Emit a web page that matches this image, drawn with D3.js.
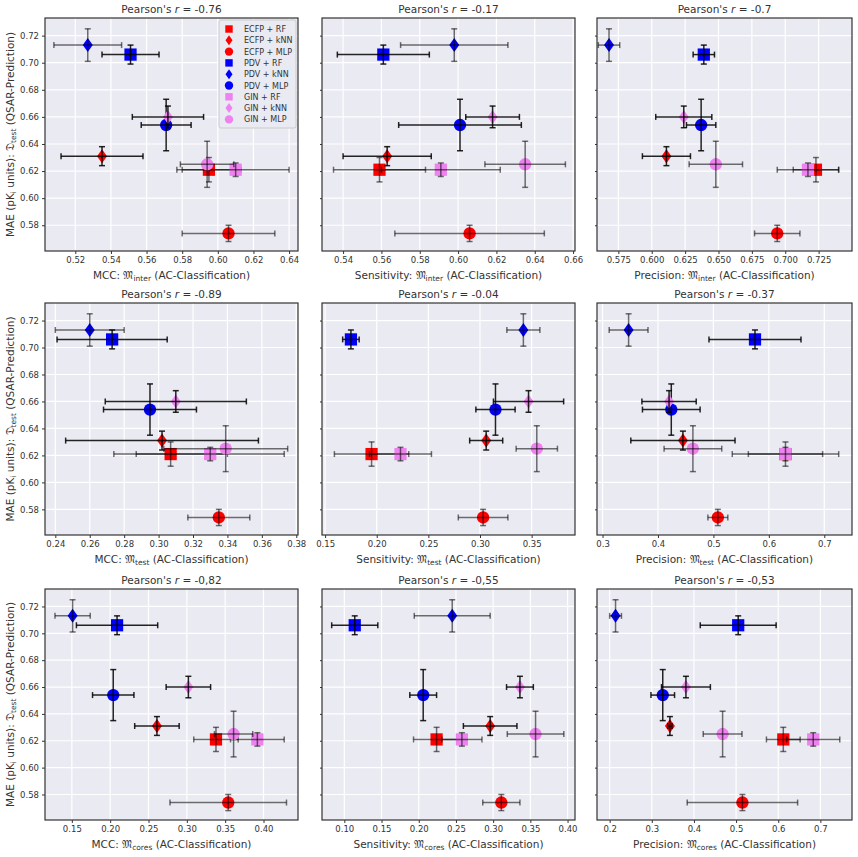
<!DOCTYPE html>
<html><head><meta charset="utf-8">
<script src="https://cdn.jsdelivr.net/npm/d3@7"></script>
<style>body{margin:0;background:#fff}text{font-family:"DejaVu Sans",sans-serif;fill:#333}</style>
</head><body><svg id="chart" width="858" height="857"></svg>
<script>
// models in legend order
const models = ["ECFP + RF","ECFP + kNN","ECFP + MLP","PDV + RF","PDV + kNN","PDV + MLP","GIN + RF","GIN + kNN","GIN + MLP"];
const colors = ["red","red","red","blue","blue","blue","violet","violet","violet"];
const shapes = ["square","diamond","circle","square","diamond","circle","square","diamond","circle"];
const mae    = [0.621,0.631,0.574,0.706,0.713,0.654,0.621,0.660,0.625];
const maeErr = [0.009,0.007,0.006,0.007,0.012,0.019,0.005,0.008,0.017];
const yTicks = [0.58,0.60,0.62,0.64,0.66,0.68,0.70,0.72];

// x values per panel (row-major)
const xVals = [
  [0.595,0.535,0.606,0.551,0.527,0.571,0.610,0.572,0.594],
  [0.559,0.563,0.606,0.561,0.598,0.601,0.591,0.618,0.635],
  [0.723,0.611,0.694,0.639,0.568,0.637,0.717,0.624,0.648],
  [0.307,0.302,0.335,0.273,0.260,0.295,0.330,0.310,0.339],
  [0.195,0.306,0.303,0.175,0.342,0.315,0.223,0.347,0.355],
  [0.630,0.445,0.508,0.575,0.347,0.424,0.630,0.420,0.463],
  [0.338,0.261,0.354,0.209,0.151,0.204,0.392,0.302,0.361],
  [0.224,0.296,0.311,0.114,0.245,0.206,0.258,0.336,0.357],
  [0.612,0.343,0.515,0.505,0.214,0.326,0.683,0.381,0.468]
];
const xErrs = [
  [0.018,0.023,0.026,0.016,0.019,0.014,0.030,0.020,0.015],
  [0.024,0.023,0.039,0.024,0.028,0.032,0.031,0.014,0.021],
  [0.017,0.018,0.017,0.008,0.008,0.011,0.023,0.021,0.020],
  [0.033,0.056,0.018,0.032,0.020,0.027,0.043,0.041,0.036],
  [0.036,0.016,0.024,0.008,0.016,0.019,0.030,0.034,0.020],
  [0.067,0.094,0.018,0.083,0.035,0.052,0.096,0.049,0.052],
  [0.029,0.029,0.076,0.053,0.023,0.027,0.035,0.029,0.025],
  [0.031,0.036,0.025,0.031,0.051,0.018,0.027,0.018,0.038],
  [0.040,0.005,0.131,0.090,0.014,0.028,0.063,0.058,0.046]
];
const xDomains = [[0.503,0.645],[0.529,0.661],[0.559,0.750],[0.234,0.381],[0.147,0.392],[0.29,0.75],[0.115,0.445],[0.07,0.41],[0.17,0.775]];
const xTicks = [
  [0.52,0.54,0.56,0.58,0.60,0.62,0.64],
  [0.54,0.56,0.58,0.60,0.62,0.64,0.66],
  [0.575,0.600,0.625,0.650,0.675,0.700,0.725],
  [0.24,0.26,0.28,0.30,0.32,0.34,0.36,0.38],
  [0.15,0.20,0.25,0.30,0.35],
  [0.3,0.4,0.5,0.6,0.7],
  [0.15,0.20,0.25,0.30,0.35,0.40],
  [0.10,0.15,0.20,0.25,0.30,0.35,0.40],
  [0.2,0.3,0.4,0.5,0.6,0.7]
];
const tickFmt = [".2f",".2f",".3f",".2f",".2f",".1f",".2f",".2f",".1f"];
const titles = ["-0.76","-0.17","-0.7","-0.89","-0.04","-0.37","-0,82","-0,55","-0,53"];
const metrics = ["MCC","Sensitivity","Precision"];
const subsets = ["inter","test","cores"];

const colX = [[45,298],[322,575],[597,852]];
const rowY = [[18,251],[303,535],[589,820]];

const svg = d3.select("#chart");
const sym = {square: d3.symbolSquare, circle: d3.symbolCircle};

for (let p = 0; p < 9; p++) {
  const r = Math.floor(p/3), c = p%3;
  const g = svg.append("g");
  const x = d3.scaleLinear().domain(xDomains[p]).range(colX[c]);
  const y = d3.scaleLinear().domain([0.561,0.733]).range([rowY[r][1], rowY[r][0]]);
  g.append("rect").attr("x",colX[c][0]).attr("y",rowY[r][0])
    .attr("width",colX[c][1]-colX[c][0]).attr("height",rowY[r][1]-rowY[r][0]).attr("fill","#eaeaf2");
  g.selectAll(".gx").data(xTicks[p]).join("line").attr("x1",d=>x(d)).attr("x2",d=>x(d))
    .attr("y1",rowY[r][0]).attr("y2",rowY[r][1]).attr("stroke","#fff").attr("stroke-width",1.2);
  g.selectAll(".gy").data(yTicks).join("line").attr("y1",d=>y(d)).attr("y2",d=>y(d))
    .attr("x1",colX[c][0]).attr("x2",colX[c][1]).attr("stroke","#fff").attr("stroke-width",1.2);

  const xa = g.append("g").attr("transform",`translate(0,${rowY[r][1]})`)
    .call(d3.axisBottom(x).tickValues(xTicks[p]).tickFormat(d3.format(tickFmt[p])).tickSize(3));
  const ya = g.append("g").attr("transform",`translate(${colX[c][0]},0)`)
    .call(d3.axisLeft(y).tickValues(yTicks).tickFormat(c===0 ? d3.format(".2f") : ()=>"").tickSize(c===0?3:2));
  [xa,ya].forEach(a=>{a.select(".domain").remove(); a.selectAll("text").attr("font-size",8.5).attr("fill","#333"); a.selectAll("line").attr("stroke","#333");});

  g.append("rect").attr("x",colX[c][0]).attr("y",rowY[r][0])
    .attr("width",colX[c][1]-colX[c][0]).attr("height",rowY[r][1]-rowY[r][0])
    .attr("fill","none").attr("stroke","#333").attr("stroke-width",1.2);

  const cx = (colX[c][0]+colX[c][1])/2;
  const t = g.append("text").attr("x",cx).attr("y",rowY[r][0]-5).attr("text-anchor","middle").attr("font-size",10.5);
  t.append("tspan").text("Pearson's ");
  t.append("tspan").attr("font-style","italic").text("r");
  t.append("tspan").text(" = " + titles[p]);

  const xl = g.append("text").attr("x",cx).attr("y",rowY[r][1]+28).attr("text-anchor","middle").attr("font-size",10.5);
  xl.append("tspan").text(metrics[c] + ": 𝔐");
  xl.append("tspan").attr("font-size",7.5).attr("dy",2).text(subsets[r]);
  xl.append("tspan").attr("dy",-2).text(" (AC-Classification)");

  if (c === 0) {
    const ym = (rowY[r][0]+rowY[r][1])/2;
    const yl = g.append("text").attr("transform",`translate(14,${ym}) rotate(-90)`).attr("text-anchor","middle").attr("font-size",10.5);
    yl.append("tspan").text("MAE (pK");
    yl.append("tspan").attr("font-size",7.5).attr("dy",2).text("i");
    yl.append("tspan").attr("dy",-2).text(" units): 𝔇");
    yl.append("tspan").attr("font-size",7.5).attr("dy",2).text("test");
    yl.append("tspan").attr("dy",-2).text(" (QSAR-Prediction)");
  }

  const pts = models.map((m,i)=>({i, x:xVals[p][i], xe:xErrs[p][i], y:mae[i], ye:maeErr[i]}));
  const marks = g.selectAll(".pt").data(pts).join("g");
  marks.each(function(d){
    const s = d3.select(this);
    s.append("path").attr("transform",`translate(${x(d.x)},${y(d.y)})`)
      .attr("d", shapes[d.i]==="diamond" ? "M0,-7L5,0L0,7L-5,0Z" : d3.symbol(sym[shapes[d.i]], shapes[d.i]==="square"?150:120)())
      .attr("fill",colors[d.i]);
  });
  marks.each(function(d){
    const s = d3.select(this), op = d.i%2 ? 0.85 : 0.55;
    const ln = (x1,y1,x2,y2)=>s.append("line").attr("x1",x1).attr("y1",y1).attr("x2",x2).attr("y2",y2)
      .attr("stroke","#000").attr("stroke-opacity",op).attr("stroke-width",1.5);
    const px = x(d.x), py = y(d.y);
    const xa0 = x(d.x-d.xe), xa1 = x(d.x+d.xe), ya0 = y(d.y-d.ye), ya1 = y(d.y+d.ye);
    ln(xa0,py,xa1,py); ln(xa0,py-3,xa0,py+3); ln(xa1,py-3,xa1,py+3);
    ln(px,ya0,px,ya1); ln(px-3,ya0,px+3,ya0); ln(px-3,ya1,px+3,ya1);
  });

  if (p === 0) {
    const lg = g.append("g").attr("transform","translate(219,20)");
    lg.append("rect").attr("width",77).attr("height",108).attr("rx",2).attr("fill","#eaeaf2").attr("stroke","#ccc");
    models.forEach((m,i)=>{
      const yy = 9 + i*11.3;
      lg.append("path").attr("transform",`translate(10,${yy})`)
        .attr("d", shapes[i]==="diamond" ? "M0,-5L3.5,0L0,5L-3.5,0Z" : d3.symbol(sym[shapes[i]], 55)()).attr("fill",colors[i]);
      lg.append("text").attr("x",25).attr("y",yy+3).attr("font-size",8).text(m);
    });
  }
}
</script></body></html>
